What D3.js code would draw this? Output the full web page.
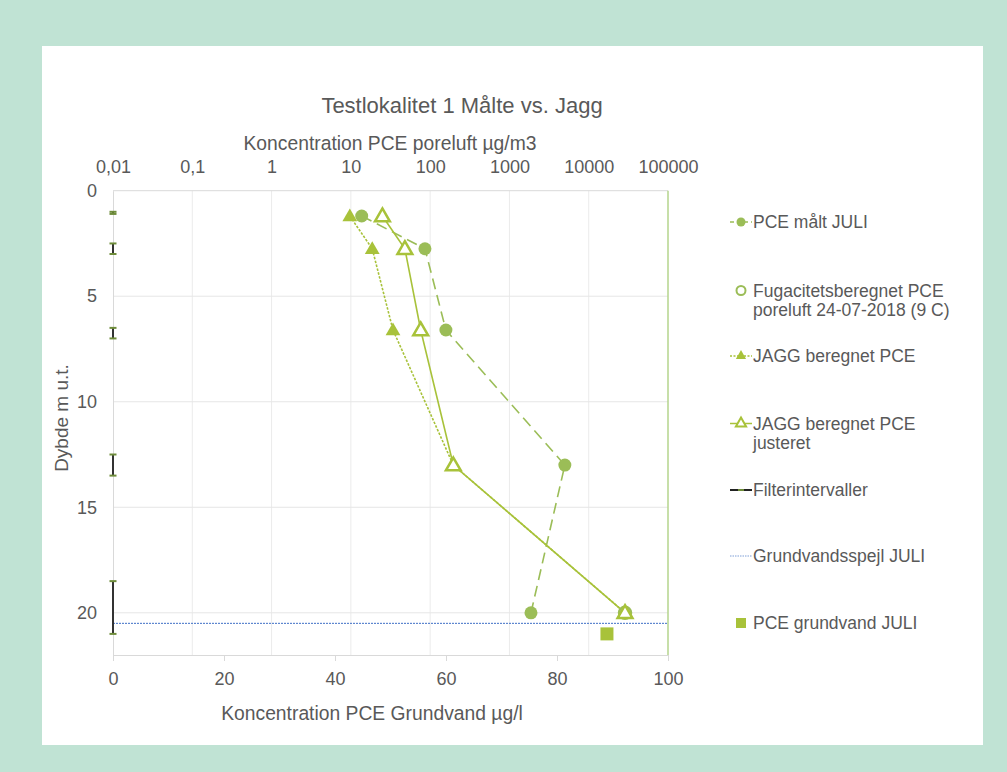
<!DOCTYPE html>
<html>
<head>
<meta charset="utf-8">
<script src="https://cdn.jsdelivr.net/npm/d3@7"></script>
<style>
  body { margin: 0; background: #c0e3d4; }
  svg { display: block; font-family: "Liberation Sans", Arial, sans-serif; }
</style>
</head>
<body>
<div id="chart"></div>
<script>
// Testlokalitet 1: measured vs. JAGG-calculated PCE in soil air, by depth

const depths = [1.2, 2.75, 6.6, 13, 20];
const pceMaalt = [13.7, 86, 158, 5000, 1870];
const jaggBeregnet = [9.7, 18.6, 34, 196, 28700];
const jaggJusteret = [25, 48, 76, 196, 28700];
const fugacitetDepths = [20];
const fugacitet = [28700];
const filterIntervals = [[1.0, 1.1], [2.5, 3.0], [6.5, 7.0], [12.5, 13.5], [18.5, 21.0]];
const grundvandsspejl = 20.5;
const grundvandDepths = [21];
const pceGrundvand = [89];

const logTicks = [0.01, 0.1, 1, 10, 100, 1000, 10000, 100000];
const linTicks = [0, 20, 40, 60, 80, 100];
const depthTicks = [0, 5, 10, 15, 20];

const legendItems = [
    {key: "maalt", label: ["PCE målt JULI"]},
    {key: "fug", label: ["Fugacitetsberegnet PCE", "poreluft 24-07-2018 (9 C)"]},
    {key: "jagg", label: ["JAGG beregnet PCE"]},
    {key: "just", label: ["JAGG beregnet PCE", "justeret"]},
    {key: "filter", label: ["Filterintervaller"]},
    {key: "gv", label: ["Grundvandsspejl JULI"]},
    {key: "sq", label: ["PCE grundvand JULI"]}
];

const W = 1007, H = 772;
const plot = {left: 113, right: 668, top: 190.7, bottom: 655};
const green1 = "#9bbd57";
const green2 = "#a8c23a";
const textCol = "#595959";

const svg = d3.select("#chart").append("svg")
    .attr("width", W)
    .attr("height", H);

svg.append("rect")
    .attr("x", 42).attr("y", 46)
    .attr("width", 941).attr("height", 699)
    .attr("fill", "white");

const x = d3.scaleLinear().domain([0, 100]).range([plot.left, plot.right]);
const xLog = d3.scaleLog().domain([0.01, 100000]).range([plot.left, plot.right]);
const y = d3.scaleLinear().domain([0, 22]).range([plot.top, plot.bottom]);

// gridlines
const grid = svg.append("g");
grid.selectAll(".vg")
    .data(logTicks.slice(1, -1))
    .join("line")
    .attr("x1", d => xLog(d)).attr("x2", d => xLog(d))
    .attr("y1", plot.top).attr("y2", plot.bottom)
    .attr("stroke", "#ebebeb").attr("stroke-width", 1);
grid.selectAll(".hg")
    .data(depthTicks)
    .join("line")
    .attr("x1", plot.left).attr("x2", plot.right)
    .attr("y1", d => y(d)).attr("y2", d => y(d))
    .attr("stroke", d => d === 0 ? "#d9d9d9" : "#e6e6e6").attr("stroke-width", 1);

// axes
const yAxis = svg.append("g")
    .attr("transform", `translate(${plot.left},0)`)
    .call(d3.axisLeft(y).tickValues(depthTicks).tickSize(0).tickPadding(16));
yAxis.select(".domain").attr("stroke", "#d9d9d9");

const xAxis = svg.append("g")
    .attr("transform", `translate(0,${plot.bottom})`)
    .call(d3.axisBottom(x).tickValues(linTicks).tickSize(6).tickPadding(11));
xAxis.select(".domain").attr("stroke", "#d9d9d9");
xAxis.selectAll(".tick line").attr("stroke", "#d9d9d9");

const topAxis = svg.append("g")
    .attr("transform", `translate(0,${plot.top})`)
    .call(d3.axisTop(xLog).tickValues(logTicks)
        .tickFormat(d => String(d).replace(".", ",")).tickSize(0).tickPadding(18));
topAxis.select(".domain").remove();

svg.selectAll(".tick text")
    .attr("fill", textCol)
    .style("font-size", "18px")
    .style("font-family", "'Liberation Sans', Arial, sans-serif");

svg.append("line")
    .attr("x1", plot.right).attr("x2", plot.right)
    .attr("y1", plot.top).attr("y2", plot.bottom)
    .attr("stroke", "#b5d48c").attr("stroke-width", 1.5);

// titles
svg.append("text")
    .attr("x", 462).attr("y", 113)
    .attr("text-anchor", "middle")
    .attr("fill", textCol)
    .style("font-size", "22px")
    .text("Testlokalitet 1 Målte vs. Jagg");
svg.append("text")
    .attr("x", 390).attr("y", 150)
    .attr("text-anchor", "middle")
    .attr("fill", textCol)
    .style("font-size", "19.3px")
    .text("Koncentration PCE poreluft µg/m3");
svg.append("text")
    .attr("x", 372).attr("y", 720)
    .attr("text-anchor", "middle")
    .attr("fill", textCol)
    .style("font-size", "19.3px")
    .text("Koncentration PCE Grundvand µg/l");
svg.append("text")
    .attr("transform", "translate(68,418) rotate(-90)")
    .attr("text-anchor", "middle")
    .attr("fill", textCol)
    .style("font-size", "19px")
    .text("Dybde m u.t.");

// groundwater level
svg.append("line")
    .attr("x1", plot.left).attr("x2", plot.right)
    .attr("y1", y(grundvandsspejl)).attr("y2", y(grundvandsspejl))
    .attr("stroke", "#3f6fc6").attr("stroke-width", 1)
    .attr("stroke-dasharray", "2,1");

// filter intervals
const filt = svg.append("g");
filt.selectAll(".fl")
    .data(filterIntervals)
    .join("line")
    .attr("x1", x(0)).attr("x2", x(0))
    .attr("y1", d => y(d[0])).attr("y2", d => y(d[1]))
    .attr("stroke", "#333").attr("stroke-width", 2);
filt.selectAll(".cap")
    .data(filterIntervals.flat())
    .join("line")
    .attr("x1", x(0) - 3.5).attr("x2", x(0) + 3.5)
    .attr("y1", d => y(d)).attr("y2", d => y(d))
    .attr("stroke", "#6e8c3a").attr("stroke-width", 2);

const line = d3.line();

function series(values, dash, color) {
    const pts = values.map((v, i) => [xLog(v), y(depths[i])]);
    svg.append("path")
        .attr("d", line(pts))
        .attr("fill", "none")
        .attr("stroke", color)
        .attr("stroke-width", 1.6)
        .attr("stroke-dasharray", dash);
    return pts;
}

const tri = d3.symbol().type(d3.symbolTriangle).size(95);

const maaltPts = series(pceMaalt, "11,6", green1);
const jaggPts = series(jaggBeregnet, "2.5,1.5", green2);
const justPts = series(jaggJusteret, null, green2);

svg.selectAll(".maalt")
    .data(maaltPts)
    .join("circle")
    .attr("cx", d => d[0]).attr("cy", d => d[1])
    .attr("r", 6.5)
    .attr("fill", green1);

svg.selectAll(".fug")
    .data(fugacitet)
    .join("circle")
    .attr("cx", d => xLog(d))
    .attr("cy", (d, i) => y(fugacitetDepths[i]))
    .attr("r", 6)
    .attr("fill", "white")
    .attr("stroke", green1).attr("stroke-width", 2.5);

svg.selectAll(".jagg")
    .data(jaggPts)
    .join("path")
    .attr("d", tri)
    .attr("transform", d => `translate(${d[0]},${d[1] + 1})`)
    .attr("fill", green2);

svg.selectAll(".just")
    .data(justPts)
    .join("path")
    .attr("d", tri)
    .attr("transform", d => `translate(${d[0]},${d[1] + 1})`)
    .attr("fill", "white")
    .attr("stroke", green2).attr("stroke-width", 2.5);

svg.selectAll(".sq")
    .data(pceGrundvand)
    .join("rect")
    .attr("x", d => x(d) - 6.5)
    .attr("y", (d, i) => y(grundvandDepths[i]) - 6.5)
    .attr("width", 13).attr("height", 13)
    .attr("fill", green2);

// legend
const legendY = [222, 300, 356, 433, 490, 556, 623];
const lg = svg.append("g");
legendItems.forEach((item, i) => {
    const g = lg.append("g").attr("transform", `translate(741,${legendY[i]})`);
    const firstY = item.label.length > 1 ? -9.5 : 0;
    if (item.key === "maalt") {
        g.append("line").attr("x1", -11).attr("x2", 11).attr("y1", firstY).attr("y2", firstY)
            .attr("stroke", green1).attr("stroke-width", 1.5).attr("stroke-dasharray", "4,3");
        g.append("circle").attr("cy", firstY).attr("r", 4.5).attr("fill", green1);
    } else if (item.key === "fug") {
        g.append("circle").attr("cy", firstY).attr("r", 4.5)
            .attr("fill", "white").attr("stroke", green1).attr("stroke-width", 2);
    } else if (item.key === "jagg") {
        g.append("line").attr("x1", -11).attr("x2", 11).attr("y1", firstY).attr("y2", firstY)
            .attr("stroke", green2).attr("stroke-width", 1.5).attr("stroke-dasharray", "2,1.5");
        g.append("path").attr("d", d3.symbol().type(d3.symbolTriangle).size(45))
            .attr("transform", `translate(0,${firstY})`).attr("fill", green2);
    } else if (item.key === "just") {
        g.append("line").attr("x1", -11).attr("x2", 11).attr("y1", firstY).attr("y2", firstY)
            .attr("stroke", green2).attr("stroke-width", 1.5);
        g.append("path").attr("d", d3.symbol().type(d3.symbolTriangle).size(45))
            .attr("transform", `translate(0,${firstY})`)
            .attr("fill", "white").attr("stroke", green2).attr("stroke-width", 2);
    } else if (item.key === "filter") {
        g.append("line").attr("x1", -11).attr("x2", 11).attr("y1", firstY).attr("y2", firstY)
            .attr("stroke", "#222").attr("stroke-width", 2);
        g.append("line").attr("x1", -3).attr("x2", 3).attr("y1", firstY).attr("y2", firstY)
            .attr("stroke", "#6e8c3a").attr("stroke-width", 2);
    } else if (item.key === "gv") {
        g.append("line").attr("x1", -11).attr("x2", 11).attr("y1", firstY).attr("y2", firstY)
            .attr("stroke", "#7f9fd6").attr("stroke-width", 1).attr("stroke-dasharray", "1.5,1");
    } else if (item.key === "sq") {
        g.append("rect").attr("x", -5).attr("y", firstY - 5).attr("width", 10).attr("height", 10)
            .attr("fill", green2);
    }
    item.label.forEach((t, j) => {
        g.append("text")
            .attr("x", 12)
            .attr("y", firstY + j * 19.5)
            .attr("dy", "0.35em")
            .attr("fill", textCol)
            .style("font-size", "17.5px")
            .text(t);
    });
});
</script>
</body>
</html>
